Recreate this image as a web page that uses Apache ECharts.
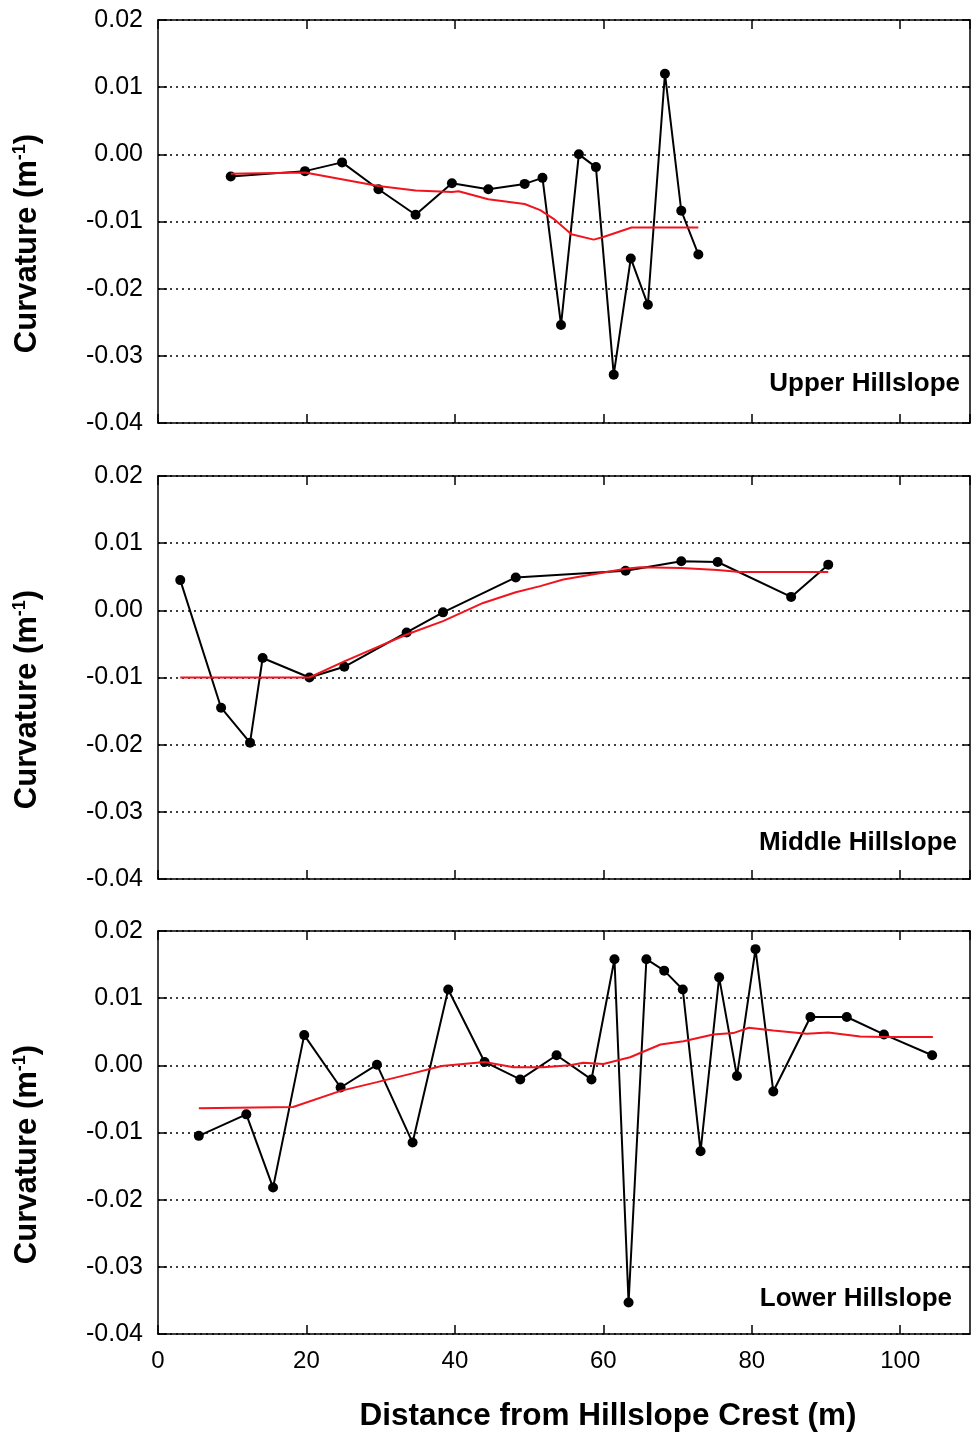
<!DOCTYPE html>
<html>
<head>
<meta charset="utf-8">
<script src="https://cdn.jsdelivr.net/npm/echarts@6/dist/echarts.min.js"></script>
<style>
html,body{margin:0;padding:0;background:#fff;}
#chart{width:972px;height:1433px;}
</style>
</head>
<body>
<div id="chart"></div>
<script>
// ---- data ----
const panelNames = ['Upper Hillslope', 'Middle Hillslope', 'Lower Hillslope'];
const xTickValues = [0, 20, 40, 60, 80, 100];
const yTickValues = [-0.04, -0.03, -0.02, -0.01, 0.00, 0.01, 0.02];

const upperX = [9.8, 19.8, 24.8, 29.7, 34.7, 39.6, 44.5, 49.4, 51.8, 54.3, 56.7, 59.0, 61.4, 63.7, 66.0, 68.3, 70.5, 72.8];
const upperY = [-0.0033, -0.0025, -0.0012, -0.0052, -0.0090, -0.0043, -0.0052, -0.0044, -0.0035, -0.0254, 0.0000, -0.0019, -0.0328, -0.0155, -0.0224, 0.0120, -0.0084, -0.0149];
const upperTrendX = [9.8, 19.8, 29.7, 34.7, 39.6, 40.5, 44.5, 49.4, 51.5, 53.3, 55.7, 58.7, 60.0, 63.8, 72.8];
const upperTrendY = [-0.0029, -0.0027, -0.0047, -0.0054, -0.0056, -0.0055, -0.0067, -0.0074, -0.0083, -0.0096, -0.0119, -0.0127, -0.0123, -0.0109, -0.0109];

const middleX = [3.0, 8.5, 12.4, 14.1, 20.4, 25.1, 33.5, 38.4, 48.2, 63.0, 70.5, 75.4, 85.3, 90.3];
const middleY = [0.0045, -0.0145, -0.0197, -0.0071, -0.0100, -0.0084, -0.0033, -0.0003, 0.0049, 0.0059, 0.0073, 0.0072, 0.0020, 0.0068];
const middleTrendX = [3.0, 20.4, 25.1, 33.5, 38.4, 43.8, 48.2, 51.5, 54.6, 63.0, 65.0, 70.5, 75.4, 78.4, 90.3];
const middleTrendY = [-0.0100, -0.0100, -0.0076, -0.0036, -0.0016, 0.0011, 0.0027, 0.0036, 0.0046, 0.0062, 0.0064, 0.0063, 0.0060, 0.0057, 0.0057];

const lowerX = [5.5, 11.9, 15.5, 19.7, 24.6, 29.5, 34.3, 39.1, 44.0, 48.8, 53.7, 58.4, 61.5, 63.4, 65.8, 68.2, 70.7, 73.1, 75.6, 78.0, 80.5, 82.9, 87.9, 92.8, 97.8, 104.3];
const lowerY = [-0.0105, -0.0073, -0.0182, 0.0045, -0.0033, 0.0001, -0.0115, 0.0113, 0.0005, -0.0021, 0.0015, -0.0021, 0.0158, -0.0353, 0.0158, 0.0141, 0.0113, -0.0128, 0.0131, -0.0016, 0.0173, -0.0039, 0.0072, 0.0072, 0.0046, 0.0015];
const lowerTrendX = [5.5, 18.2, 24.6, 29.5, 34.3, 38.2, 44.0, 47.9, 51.9, 55.5, 57.3, 60.0, 63.6, 67.7, 70.8, 74.8, 77.5, 79.6, 82.9, 87.4, 90.3, 94.6, 97.8, 104.4];
const lowerTrendY = [-0.0064, -0.0062, -0.0038, -0.0025, -0.0012, -0.0001, 0.0005, -0.0003, -0.0003, 0.0000, 0.0004, 0.0002, 0.0012, 0.0031, 0.0036, 0.0046, 0.0048, 0.0056, 0.0052, 0.0047, 0.0049, 0.0043, 0.0042, 0.0042];

const X_MIN = 0, X_MAX = 109.4, X_INT = 20;
const Y_MIN = -0.04, Y_MAX = 0.02, Y_INT = 0.01;

// ---- build ----
const zip = (a, b) => a.map((v, i) => [v, b[i]]);
const panels = [
  { pts: zip(upperX, upperY), trend: zip(upperTrendX, upperTrendY) },
  { pts: zip(middleX, middleY), trend: zip(middleTrendX, middleTrendY) },
  { pts: zip(lowerX, lowerY), trend: zip(lowerTrendX, lowerTrendY) }
];
const FONT = '"Liberation Sans", Arial, Helvetica, sans-serif';
const gridTops = [20, 476, 931];
const gridH = 403;
const labelCenters = [384, 843, 1299];
const labelRights = [960, 957, 952];

const grid = [], xAxis = [], yAxis = [], series = [], graphic = [];
const axisLine = { show: true, onZero: false, lineStyle: { color: '#000', width: 1.5 } };
const axisTick = { show: true, inside: true, length: 9, lineStyle: { color: '#000', width: 1.5 } };

panels.forEach((p, i) => {
  grid.push({ left: 158, right: 2, top: gridTops[i], height: gridH, containLabel: false });
  const xLabelsShown = i === 2;
  xAxis.push({
    type: 'value', gridIndex: i, position: 'bottom', min: X_MIN, max: X_MAX, interval: X_INT,
    axisLine, axisTick, splitLine: { show: false },
    axisLabel: {
      show: xLabelsShown, margin: 15, fontSize: 24, color: '#000', fontFamily: FONT,
      showMaxLabel: false,
      formatter: v => (xTickValues.indexOf(Math.round(v * 1000) / 1000) >= 0 ? String(Math.round(v)) : '')
    }
  });
  xAxis.push({
    type: 'value', gridIndex: i, position: 'top', min: X_MIN, max: X_MAX, interval: X_INT,
    axisLine, axisTick, splitLine: { show: false }, axisLabel: { show: false }
  });
  yAxis.push({
    type: 'value', gridIndex: i, position: 'left', min: Y_MIN, max: Y_MAX, interval: Y_INT,
    axisLine, axisTick,
    splitLine: { show: true, lineStyle: { color: '#000', width: 1.5, type: [2, 4] } },
    axisLabel: {
      margin: 15, fontSize: 25, color: '#000', fontFamily: FONT,
      formatter: v => { const s = v.toFixed(2); return s === '-0.00' ? '0.00' : s; }
    },
    name: '{a|Curvature (m}{s|-1}{a|)}',
    nameLocation: 'middle', nameGap: 114, nameRotate: 90,
    nameTextStyle: {
      padding: [0, 44, 0, 0],
      rich: {
        a: { fontSize: 31, fontWeight: 'bold', fontFamily: FONT, color: '#000', lineHeight: 33 },
        s: { fontSize: 18, fontWeight: 'bold', fontFamily: FONT, color: '#000', verticalAlign: 'top', lineHeight: 33, padding: [0, 0, 10, 0] }
      }
    }
  });
  yAxis.push({
    type: 'value', gridIndex: i, position: 'right', min: Y_MIN, max: Y_MAX, interval: Y_INT,
    axisLine, axisTick: { show: true, inside: true, length: 7, lineStyle: { color: '#000', width: 1.5 } },
    splitLine: { show: false }, axisLabel: { show: false }
  });
  series.push({
    type: 'line', xAxisIndex: i * 2, yAxisIndex: i * 2, data: p.pts,
    symbol: 'circle', symbolSize: 10, showAllSymbol: true,
    lineStyle: { color: '#000', width: 2 }, itemStyle: { color: '#000' },
    animation: false, z: 3
  });
  series.push({
    type: 'line', xAxisIndex: i * 2, yAxisIndex: i * 2, data: p.trend,
    symbol: 'none', lineStyle: { color: '#f0141e', width: 2 },
    animation: false, z: 4
  });
  graphic.push({
    type: 'text', x: labelRights[i], y: labelCenters[i],
    style: { text: panelNames[i], align: 'right', verticalAlign: 'middle', fontSize: 26, fontWeight: 'bold', fontFamily: FONT, fill: '#000' }
  });
});

graphic.push({
  type: 'text', x: 608, y: 1416,
  style: { text: 'Distance from Hillslope Crest (m)', align: 'center', verticalAlign: 'middle', fontSize: 31.5, fontWeight: 'bold', fontFamily: FONT, fill: '#000' }
});

const chart = echarts.init(document.getElementById('chart'), null, { renderer: 'canvas' });
chart.setOption({ animation: false, backgroundColor: '#fff', grid, xAxis, yAxis, series, graphic });
</script>
</body>
</html>
